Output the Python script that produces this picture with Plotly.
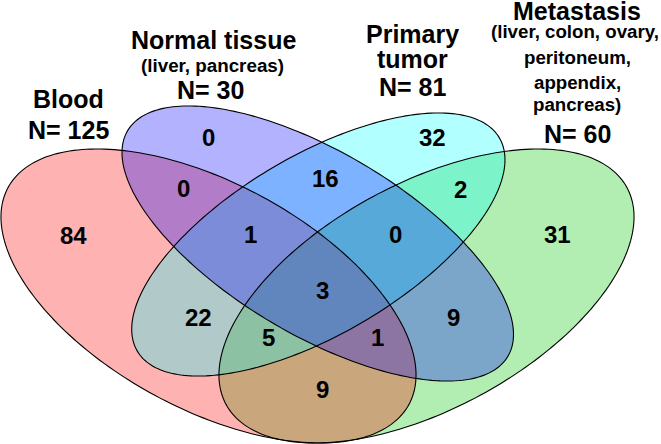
import numpy as np
import plotly.graph_objects as go

# ---------------- data ----------------
set_names = ["Blood", "Normal tissue", "Primary tumor", "Metastasis"]
set_sizes = [125, 30, 81, 60]
set_title_lines = [
    ["Blood"],
    ["Normal tissue"],
    ["Primary", "tumor"],
    ["Metastasis"],
]
set_note_lines = [
    [],
    ["(liver, pancreas)"],
    [],
    ["(liver, colon, ovary,", "peritoneum,", "appendix,", "pancreas)"],
]

# regions: B=Blood, N=Normal tissue, P=Primary tumor, M=Metastasis
region_keys = ["B", "N", "P", "M", "BN", "NP", "PM", "BNP", "NPM",
               "BP", "BNPM", "NM", "BPM", "BNM", "BM"]
region_counts = [84, 0, 32, 31, 0, 16, 2, 1, 0, 22, 3, 9, 5, 1, 9]

# ---------------- layout / geometry (pixel space) ----------------
W, H = 661, 444
# ellipse geometry: cx, cy, semi-major, semi-minor, tilt (deg, clockwise on screen)
ellipses = {
    "Blood":         (208.5, 296.0, 227.9, 112.9, 28.4),
    "Normal tissue": (317.75, 243.5, 221.1, 91.4, 30.7),
    "Primary tumor": (318.35, 244.5, 210.1, 89.4, -30.5),
    "Metastasis":    (426.5, 296.0, 227.9, 112.9, -28.4),
}
fill_colors = {
    "Blood": "rgba(255,0,0,0.3)",
    "Normal tissue": "rgba(0,0,255,0.3)",
    "Primary tumor": "rgba(0,255,255,0.3)",
    "Metastasis": "rgba(0,200,0,0.3)",
}
draw_order = ["Metastasis", "Blood", "Primary tumor", "Normal tissue"]

region_pos = {
    "B": (73, 235), "N": (208, 137), "P": (432, 137), "M": (557, 234),
    "BN": (183, 188), "NP": (325, 178), "PM": (460, 189),
    "BNP": (250, 234), "NPM": (395, 234), "BP": (198, 317),
    "BNPM": (322, 290), "NM": (453, 317), "BPM": (268, 337),
    "BNM": (377, 337), "BM": (322, 389),
}

# label line positions (x centre, y centre, font size) per set, in order:
# title lines, note lines, N= line
label_layout = {
    "Blood": [(68.5, 98.5, 25), (68.5, 129.5, 25)],
    "Normal tissue": [(213.5, 40, 25), (212.5, 65, 18.8), (210, 90, 25)],
    "Primary tumor": [(412, 34, 25), (412, 59, 25), (412.5, 86.5, 25)],
    "Metastasis": [(577, 11, 25), (574.5, 31, 18.7), (577, 57, 18.7),
                   (577, 82, 18.7), (577, 104, 18.7), (577.5, 133.5, 25)],
}

FONT = "Liberation Sans, Arial, Helvetica, sans-serif"


def ellipse_path(cx, cy, a, b, deg, n=240):
    t = np.linspace(0, 2 * np.pi, n, endpoint=False)
    th = np.deg2rad(deg)
    x = cx + a * np.cos(t) * np.cos(th) - b * np.sin(t) * np.sin(th)
    y = cy + a * np.cos(t) * np.sin(th) + b * np.sin(t) * np.cos(th)
    pts = [f"{xi:.2f},{yi:.2f}" for xi, yi in zip(x, y)]
    return "M " + " L ".join(pts) + " Z"


fig = go.Figure()
shapes = []
for name in draw_order:
    shapes.append(dict(type="path", path=ellipse_path(*ellipses[name]),
                       xref="x", yref="y", fillcolor=fill_colors[name],
                       line=dict(width=0), layer="above"))
for name in set_names:
    shapes.append(dict(type="path", path=ellipse_path(*ellipses[name]),
                       xref="x", yref="y", fillcolor="rgba(0,0,0,0)",
                       line=dict(color="black", width=1.1), layer="above"))

annotations = []
for key, cnt in zip(region_keys, region_counts):
    x, y = region_pos[key]
    annotations.append(dict(x=x, y=y, xref="x", yref="y", text=f"<b>{cnt}</b>",
                            showarrow=False, xanchor="center", yanchor="middle",
                            font=dict(family=FONT, size=24, color="black")))

for i, name in enumerate(set_names):
    lines = set_title_lines[i] + set_note_lines[i] + [f"N= {set_sizes[i]}"]
    for text, (x, y, sz) in zip(lines, label_layout[name]):
        annotations.append(dict(x=x, y=y, xref="x", yref="y", text=f"<b>{text}</b>",
                                showarrow=False, xanchor="center", yanchor="middle",
                                font=dict(family=FONT, size=sz, color="black")))

fig.update_layout(
    width=W, height=H,
    margin=dict(l=0, r=0, t=0, b=0),
    paper_bgcolor="white", plot_bgcolor="white",
    xaxis=dict(range=[0, W], visible=False, fixedrange=True),
    yaxis=dict(range=[H, 0], visible=False, fixedrange=True),
    shapes=shapes, annotations=annotations, showlegend=False,
)
fig.write_html(
    "out.html",
    config={"displayModeBar": False},
    post_script="document.body.style.margin='0px';document.body.style.padding='0px';",
)
